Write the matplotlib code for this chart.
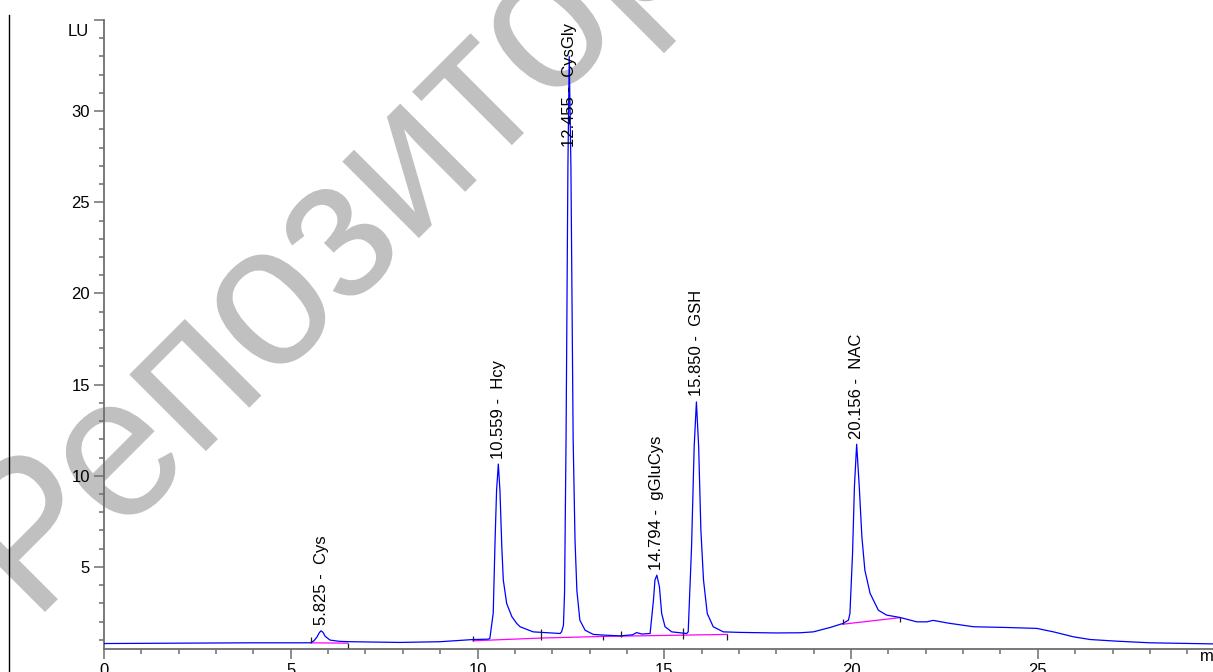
import numpy as np
import matplotlib.pyplot as plt
from matplotlib.ticker import MultipleLocator
from matplotlib.lines import Line2D
from matplotlib.textpath import TextPath
from matplotlib.patches import PathPatch
from matplotlib.font_manager import FontProperties
from matplotlib.transforms import Affine2D

plt.rcParams['font.family'] = ['Liberation Sans', 'DejaVu Sans']

# ---------------------------------------------------------------
# chromatogram trace (time in min, signal in LU)
# ---------------------------------------------------------------
trace_t = [0.0, 2.0, 4.0, 5.52, 5.62, 5.70, 5.76, 5.81, 5.86, 5.92, 6.05, 6.30, 6.59,
           7.92, 9.00, 9.89, 10.29, 10.33, 10.42, 10.47, 10.51, 10.557, 10.60, 10.65,
           10.69, 10.78, 10.92, 11.05, 11.14, 11.49, 12.21, 12.25, 12.30, 12.33, 12.37,
           12.42, 12.455, 12.50, 12.56, 12.61, 12.66, 12.74, 12.88, 13.10, 13.40, 13.82,
           14.15, 14.26, 14.40, 14.62, 14.71, 14.75, 14.80, 14.87, 14.93, 15.02, 15.20,
           15.60, 15.64, 15.73, 15.80, 15.86, 15.92, 15.98, 16.05, 16.15, 16.31, 16.58,
           17.03, 18.00, 18.63, 18.99, 19.44, 19.78, 19.93, 19.97, 20.04, 20.09, 20.15,
           20.22, 20.29, 20.37, 20.51, 20.73, 20.95, 21.31, 21.76, 22.03, 22.20, 22.60,
           23.28, 24.17, 24.97, 25.42, 25.95, 26.40, 27.11, 28.00, 29.69]
trace_y = [0.80, 0.82, 0.84, 0.84, 0.95, 1.15, 1.38, 1.50, 1.42, 1.20, 0.99, 0.92, 0.90,
           0.86, 0.90, 1.02, 1.04, 1.08, 2.46, 6.47, 9.20, 10.64, 9.20, 6.10,
           4.28, 3.00, 2.27, 1.90, 1.72, 1.44, 1.35, 1.44, 1.80, 3.60, 12.0,
           27.0, 33.0, 27.0, 12.0, 6.47, 3.70, 2.08, 1.53, 1.30, 1.26, 1.22,
           1.28, 1.40, 1.32, 1.35, 3.18, 4.28, 4.55, 3.91, 2.45, 1.72, 1.44,
           1.35, 1.44, 6.10, 11.6, 14.05, 11.6, 7.00, 4.28, 2.45, 1.72, 1.44,
           1.41, 1.38, 1.39, 1.44, 1.68, 1.90, 2.08, 2.45, 5.74, 9.39, 11.73,
           9.39, 6.65, 4.82, 3.55, 2.63, 2.36, 2.23, 1.99, 1.99, 2.07, 1.92,
           1.72, 1.68, 1.63, 1.44, 1.17, 1.02, 0.93, 0.84, 0.78]

# integration baselines (magenta)
base_segments = [
    ([5.54, 6.52], [0.84, 0.82]),
    ([9.88, 11.70, 13.36, 15.50, 16.68], [0.95, 1.10, 1.19, 1.26, 1.30]),
    ([19.78, 21.31], [1.86, 2.22]),
]

# integration event marks: time, lower, upper
event_t = [5.54, 6.52, 9.88, 11.70, 13.36, 13.85, 15.50, 16.68, 19.78, 21.31]
event_lo = [0.82, 0.55, 0.95, 1.02, 0.99, 1.17, 1.04, 0.99, 1.86, 1.99]
event_hi = [1.15, 0.82, 1.22, 1.57, 1.22, 1.50, 1.63, 1.30, 2.14, 2.26]

# peak annotations
peak_rt = [5.825, 10.559, 12.455, 14.794, 15.850, 20.156]
peak_height = [1.50, 10.64, 33.0, 4.55, 14.05, 11.73]
peak_name = ['Cys', 'Hcy', 'CysGly', 'gGluCys', 'GSH', 'NAC']

y_ticks = [5, 10, 15, 20, 25, 30]
x_ticks = [0, 5, 10, 15, 20, 25]

W, H = 1213, 672
fig = plt.figure(figsize=(W / 100, H / 100), dpi=100)
ax = fig.add_axes([104 / W, 23 / H, 1109 / W, 629 / H])
ax.patch.set_visible(False)

# watermark behind the chart (pixel geometry, origin bottom-left)
wm = TextPath((0, 0), 'Репозиторий', size=1, prop=FontProperties(family='Liberation Sans'))
ext = wm.get_extents()
wm_tr = (Affine2D().translate(-ext.x0, 0)
         .scale(195, 205).rotate_deg(45).translate(45, H - 612))
fig.add_artist(PathPatch(wm, transform=wm_tr, facecolor='#c0c0c0',
                         edgecolor='none', zorder=-5))

# left frame line
fig.add_artist(Line2D([9 / W, 9 / W], [0, 1 - 15 / H], color='black', lw=1.0))

ax.plot(trace_t, trace_y, color='#0000ff', lw=0.9, zorder=3)
for bx, by in base_segments:
    ax.plot(bx, by, color='#ff00ff', lw=0.9, zorder=2)
ax.vlines(event_t, event_lo, event_hi, color='#202020', lw=0.9, zorder=4)

for rt, h, name in zip(peak_rt, peak_height, peak_name):
    lab = f'{rt:.3f} -  {name}'
    if h > 30:
        ax.text(rt, 34.85, lab, rotation=90, ha='center', va='top', fontsize=12, zorder=5)
    else:
        ax.annotate(lab, (rt, h), xytext=(0, 4), textcoords='offset points',
                    rotation=90, ha='center', va='bottom', fontsize=12, zorder=5)

ax.set_xlim(0, 29.69)
ax.set_ylim(0.5, 35)

axis_col = '#6e6e6e'
for s in ['top', 'right']:
    ax.spines[s].set_visible(False)
for s in ['left', 'bottom']:
    ax.spines[s].set_color(axis_col)
    ax.spines[s].set_linewidth(1.3)

ax.set_yticks(y_ticks + [35])
ax.set_yticklabels([str(v) for v in y_ticks] + [''])
ax.set_xticks(x_ticks)
ax.set_xticklabels([str(v) for v in x_ticks])
ax.xaxis.set_minor_locator(MultipleLocator(1))
ax.yaxis.set_minor_locator(MultipleLocator(1))
ax.tick_params(which='major', length=7, width=1.1, color=axis_col, labelsize=12, pad=3)
ax.tick_params(which='minor', length=3.5, width=1.1, color=axis_col)

ax.annotate('LU', (0, 35), xytext=(-10.7, -3.2), textcoords='offset points',
            ha='right', va='top', fontsize=12)
ax.text(29.34, 0.5, 'min', ha='left', va='top', fontsize=12)

fig.savefig('out.png', dpi=100)
